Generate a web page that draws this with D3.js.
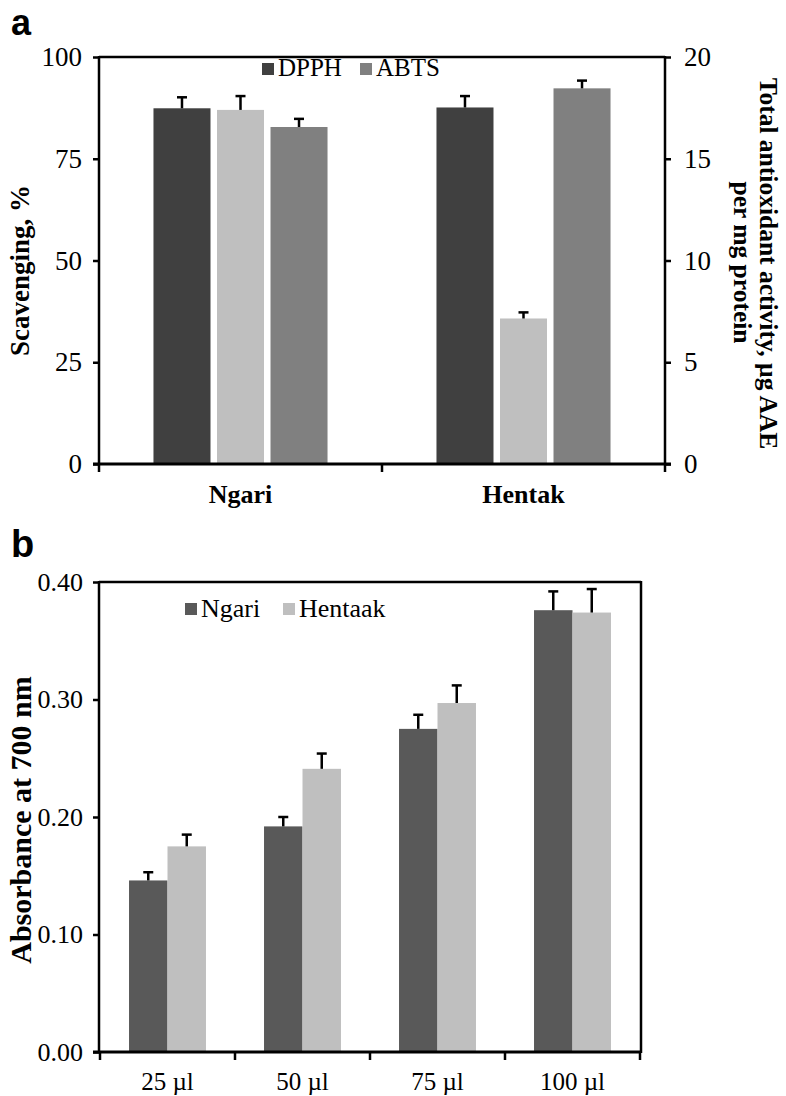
<!DOCTYPE html>
<html><head><meta charset="utf-8">
<script src="https://cdn.jsdelivr.net/npm/d3@7"></script>
<style>
body{margin:0;background:#fff}
svg{display:block}
text{font-family:"Liberation Serif","Times New Roman",serif;fill:#000}
</style></head>
<body>
<svg id="c" width="786" height="1096"></svg>
<script>
// ---------- Panel a data ----------
const catsA = ["Ngari", "Hentak"];
const seriesA = ["DPPH", "TAA", "ABTS"];
const dpph = [87.4, 87.6];
const dpphErr = [2.7, 2.8];
const taa = [17.4, 7.15];      // right axis, µg AAE per mg protein
const taaErr = [0.68, 0.30];
const abts = [82.8, 92.3];
const abtsErr = [2.0, 1.9];
const ticksALeft = [0, 25, 50, 75, 100];
const ticksARight = [0, 5, 10, 15, 20];

// ---------- Panel b data ----------
const dosesB = ["25 µl", "50 µl", "75 µl", "100 µl"];
const seriesB = ["Ngari", "Hentaak"];
const ngariB = [0.146, 0.192, 0.275, 0.376];
const ngariBErr = [0.007, 0.008, 0.012, 0.016];
const hentaakB = [0.175, 0.241, 0.297, 0.374];
const hentaakBErr = [0.010, 0.013, 0.015, 0.020];
const ticksB = [0, 0.1, 0.2, 0.3, 0.4];

const svg = d3.select("#c");
const AX = 2.5;
const SERIF = '"Liberation Serif","Times New Roman",serif';

function styleAxis(g, size) {
  g.attr("font-family", SERIF).attr("font-size", size);
  g.selectAll(".domain").remove();
  g.selectAll(".tick line").attr("stroke", "#000").attr("stroke-width", AX);
  g.selectAll(".tick text").style("font-size", size + "px").style("font-family", SERIF).attr("fill", "#000");
}
function errBar(g, x, yTop, yVal, cap) {
  g.append("line").attr("x1", x).attr("x2", x).attr("y1", yVal).attr("y2", yTop)
    .attr("stroke", "#000").attr("stroke-width", 2.5);
  g.append("line").attr("x1", x - cap / 2).attr("x2", x + cap / 2).attr("y1", yTop).attr("y2", yTop)
    .attr("stroke", "#000").attr("stroke-width", 2.5);
}

// ================= Panel a =================
{
  const L = 99, R = 665, T = 57, B = 464;
  const x0 = d3.scaleBand().domain(catsA).range([L, R]).paddingInner(0.385).paddingOuter(0.1925);
  const x1 = d3.scaleBand().domain(seriesA).range([0, x0.bandwidth()]);
  const yL = d3.scaleLinear().domain([0, 100]).range([B, T]);
  const yR = d3.scaleLinear().domain([0, 20]).range([B, T]);
  const colors = {DPPH: "#404040", TAA: "#bfbfbf", ABTS: "#808080"};
  const g = svg.append("g");

  const rows = [
    {s: "DPPH", vals: dpph, errs: dpphErr, y: yL, wf: 1, off: 0, trim: 1},
    {s: "TAA", vals: taa, errs: taaErr, y: yR, wf: 0.81, off: null, trim: 0},
    {s: "ABTS", vals: abts, errs: abtsErr, y: yL, wf: 1, off: 1, trim: 1}
  ];
  rows.forEach(r => {
    catsA.forEach((c, i) => {
      const bw = x1.bandwidth();
      const w = r.wf < 1 ? bw * r.wf : bw - r.trim;
      const xs = x0(c) + x1(r.s) + (r.off === null ? (bw - w) / 2 : r.off);
      g.append("rect").attr("x", xs).attr("width", w)
        .attr("y", r.y(r.vals[i])).attr("height", B - r.y(r.vals[i]))
        .attr("fill", colors[r.s]);
      errBar(g, xs + w / 2, r.y(r.vals[i] + r.errs[i]), r.y(r.vals[i]), 10);
    });
  });

  g.append("line").attr("x1", L).attr("x2", R).attr("y1", T).attr("y2", T).attr("stroke", "#000").attr("stroke-width", AX);
  g.append("line").attr("x1", L).attr("x2", L).attr("y1", T - 1).attr("y2", B + 1).attr("stroke", "#000").attr("stroke-width", AX);
  g.append("line").attr("x1", R).attr("x2", R).attr("y1", T - 1).attr("y2", B + 1).attr("stroke", "#000").attr("stroke-width", AX);
  g.append("line").attr("x1", L - 6).attr("x2", R + 6).attr("y1", B).attr("y2", B).attr("stroke", "#000").attr("stroke-width", 3);

  const ga = g.append("g").attr("transform", `translate(${L},0)`)
    .call(d3.axisLeft(yL).tickValues(ticksALeft).tickSize(6).tickPadding(11));
  styleAxis(ga, 27);
  const gr = g.append("g").attr("transform", `translate(${R},0)`)
    .call(d3.axisRight(yR).tickValues(ticksARight).tickSize(6).tickPadding(13));
  styleAxis(gr, 27);

  const bounds = [L, (L + R) / 2, R];
  bounds.forEach(bx => g.append("line").attr("x1", bx).attr("x2", bx).attr("y1", B).attr("y2", B + 8)
    .attr("stroke", "#000").attr("stroke-width", AX));
  catsA.forEach(c => g.append("text").attr("x", x0(c) + x0.bandwidth() / 2).attr("y", 503)
    .attr("text-anchor", "middle").style("font-size", "26px").style("font-weight", "bold").text(c));

  g.append("text").attr("transform", `translate(29,${(T + B) / 2 + 10}) rotate(-90)`)
    .attr("text-anchor", "middle").style("font-size", "27px").style("font-weight", "bold").text("Scavenging, %");
  g.append("text").attr("transform", `translate(760,${(T + B) / 2 + 3}) rotate(90)`)
    .attr("text-anchor", "middle").style("font-size", "25.5px").style("font-weight", "bold")
    .text("Total antioxidant activity, µg AAE");
  g.append("text").attr("transform", `translate(734,${(T + B) / 2 + 2}) rotate(90)`)
    .attr("text-anchor", "middle").style("font-size", "25.5px").style("font-weight", "bold")
    .text("per mg protein");

  const leg = [{s: "DPPH", c: colors.DPPH, x: 262}, {s: "ABTS", c: colors.ABTS, x: 360}];
  leg.forEach(d => {
    g.append("rect").attr("x", d.x).attr("y", 63).attr("width", 12).attr("height", 12).attr("fill", d.c);
    g.append("text").attr("x", d.x + 16).attr("y", 76).style("font-size", "25px").text(d.s);
  });

  svg.append("text").attr("x", 11).attr("y", 35).style("font-family", '"Liberation Sans",Arial,sans-serif')
    .style("font-size", "36px").style("font-weight", "bold").text("a");
}

// ================= Panel b =================
{
  const L = 99, R = 641, T = 582, B = 1052;
  const x0 = d3.scaleBand().domain(dosesB).range([L + 1, R - 1]).paddingInner(0.43).paddingOuter(0.215);
  const x1 = d3.scaleBand().domain(seriesB).range([0, x0.bandwidth()]);
  const y = d3.scaleLinear().domain([0, 0.4]).range([B, T]);
  const colors = {Ngari: "#595959", Hentaak: "#bfbfbf"};
  const g = svg.append("g");
  const rows = [
    {s: "Ngari", vals: ngariB, errs: ngariBErr},
    {s: "Hentaak", vals: hentaakB, errs: hentaakBErr}
  ];
  rows.forEach(r => {
    dosesB.forEach((c, i) => {
      const xs = x0(c) + x1(r.s);
      const w = x1.bandwidth();
      g.append("rect").attr("x", xs).attr("width", w)
        .attr("y", y(r.vals[i])).attr("height", B - y(r.vals[i])).attr("fill", colors[r.s]);
      errBar(g, xs + w / 2, y(r.vals[i] + r.errs[i]), y(r.vals[i]), 10);
    });
  });

  g.append("line").attr("x1", L).attr("x2", R).attr("y1", T).attr("y2", T).attr("stroke", "#000").attr("stroke-width", AX);
  g.append("line").attr("x1", L).attr("x2", L).attr("y1", T - 1).attr("y2", B + 1).attr("stroke", "#000").attr("stroke-width", AX);
  g.append("line").attr("x1", R).attr("x2", R).attr("y1", T - 1).attr("y2", B + 1).attr("stroke", "#000").attr("stroke-width", AX);
  g.append("line").attr("x1", L - 6).attr("x2", R).attr("y1", B).attr("y2", B).attr("stroke", "#000").attr("stroke-width", 3);

  const ga = g.append("g").attr("transform", `translate(${L},0)`)
    .call(d3.axisLeft(y).tickValues(ticksB).tickFormat(d3.format(".2f")).tickSize(6).tickPadding(10));
  styleAxis(ga, 26);

  const step = x0.step();
  dosesB.forEach((c, i) => {
    const bx = x0(c) - x0.paddingOuter() * step;
    g.append("line").attr("x1", bx).attr("x2", bx).attr("y1", B).attr("y2", B + 8).attr("stroke", "#000").attr("stroke-width", AX);
    if (i === dosesB.length - 1) {
      g.append("line").attr("x1", bx + step).attr("x2", bx + step).attr("y1", B).attr("y2", B + 8).attr("stroke", "#000").attr("stroke-width", AX);
    }
    g.append("text").attr("x", x0(c) + x0.bandwidth() / 2).attr("y", 1090)
      .attr("text-anchor", "middle").style("font-size", "25px").text(c);
  });

  g.append("text").attr("transform", `translate(31,${(T + B) / 2 + 3}) rotate(-90)`)
    .attr("text-anchor", "middle").style("font-size", "30px").style("font-weight", "bold").text("Absorbance at 700 nm");

  const leg = [{s: "Ngari", c: colors.Ngari, x: 185}, {s: "Hentaak", c: colors.Hentaak, x: 283}];
  leg.forEach(d => {
    g.append("rect").attr("x", d.x).attr("y", 603).attr("width", 12).attr("height", 12).attr("fill", d.c);
    g.append("text").attr("x", d.x + 16).attr("y", 617).style("font-size", "26px").text(d.s);
  });

  svg.append("text").attr("x", 11).attr("y", 557).style("font-family", '"Liberation Sans",Arial,sans-serif')
    .style("font-size", "38px").style("font-weight", "bold").text("b");
}
</script>
</body></html>
